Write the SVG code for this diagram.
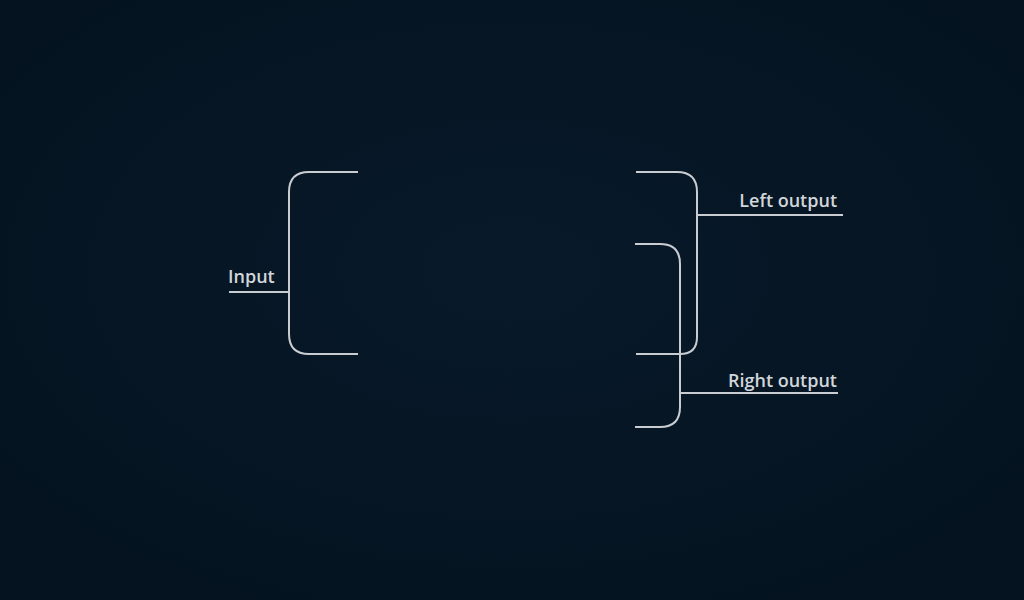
<svg xmlns="http://www.w3.org/2000/svg" width="1024" height="600" viewBox="0 0 1024 600">
<defs>
<radialGradient id="bg" cx="50%" cy="45%" r="65%">
<stop offset="0" stop-color="#08192a"/>
<stop offset="1" stop-color="#04131f"/>
</radialGradient>
<style>
.ln{fill:none;stroke:#c9cdd2;stroke-width:2}
.lb{font-family:"Open Sans","Noto Sans",sans-serif;font-weight:600;font-size:18px;fill:#d2d6da}
</style>
</defs>
<rect width="1024" height="600" fill="url(#bg)"/>
<g id="connectors">
<path class="ln" d="M358,172 H309 Q289,172 289,192 V334 Q289,354 309,354 H358"/>
<path class="ln" d="M229,292 H289"/>
<path class="ln" d="M636,172 H677 Q697,172 697,192 V337 Q697,354 680,354 H636"/>
<path class="ln" d="M697,215 H843"/>
<path class="ln" d="M635,244 H660 Q680,244 680,264 V407 Q680,427 660,427 H635"/>
<path class="ln" d="M680,393 H838"/>
</g>
<g id="input"><text class="lb" x="228" y="283">Input</text></g>
<g id="left-output"><text class="lb" x="837" y="207" text-anchor="end">Left output</text></g>
<g id="right-output"><text class="lb" x="837" y="387" text-anchor="end">Right output</text></g>
</svg>
